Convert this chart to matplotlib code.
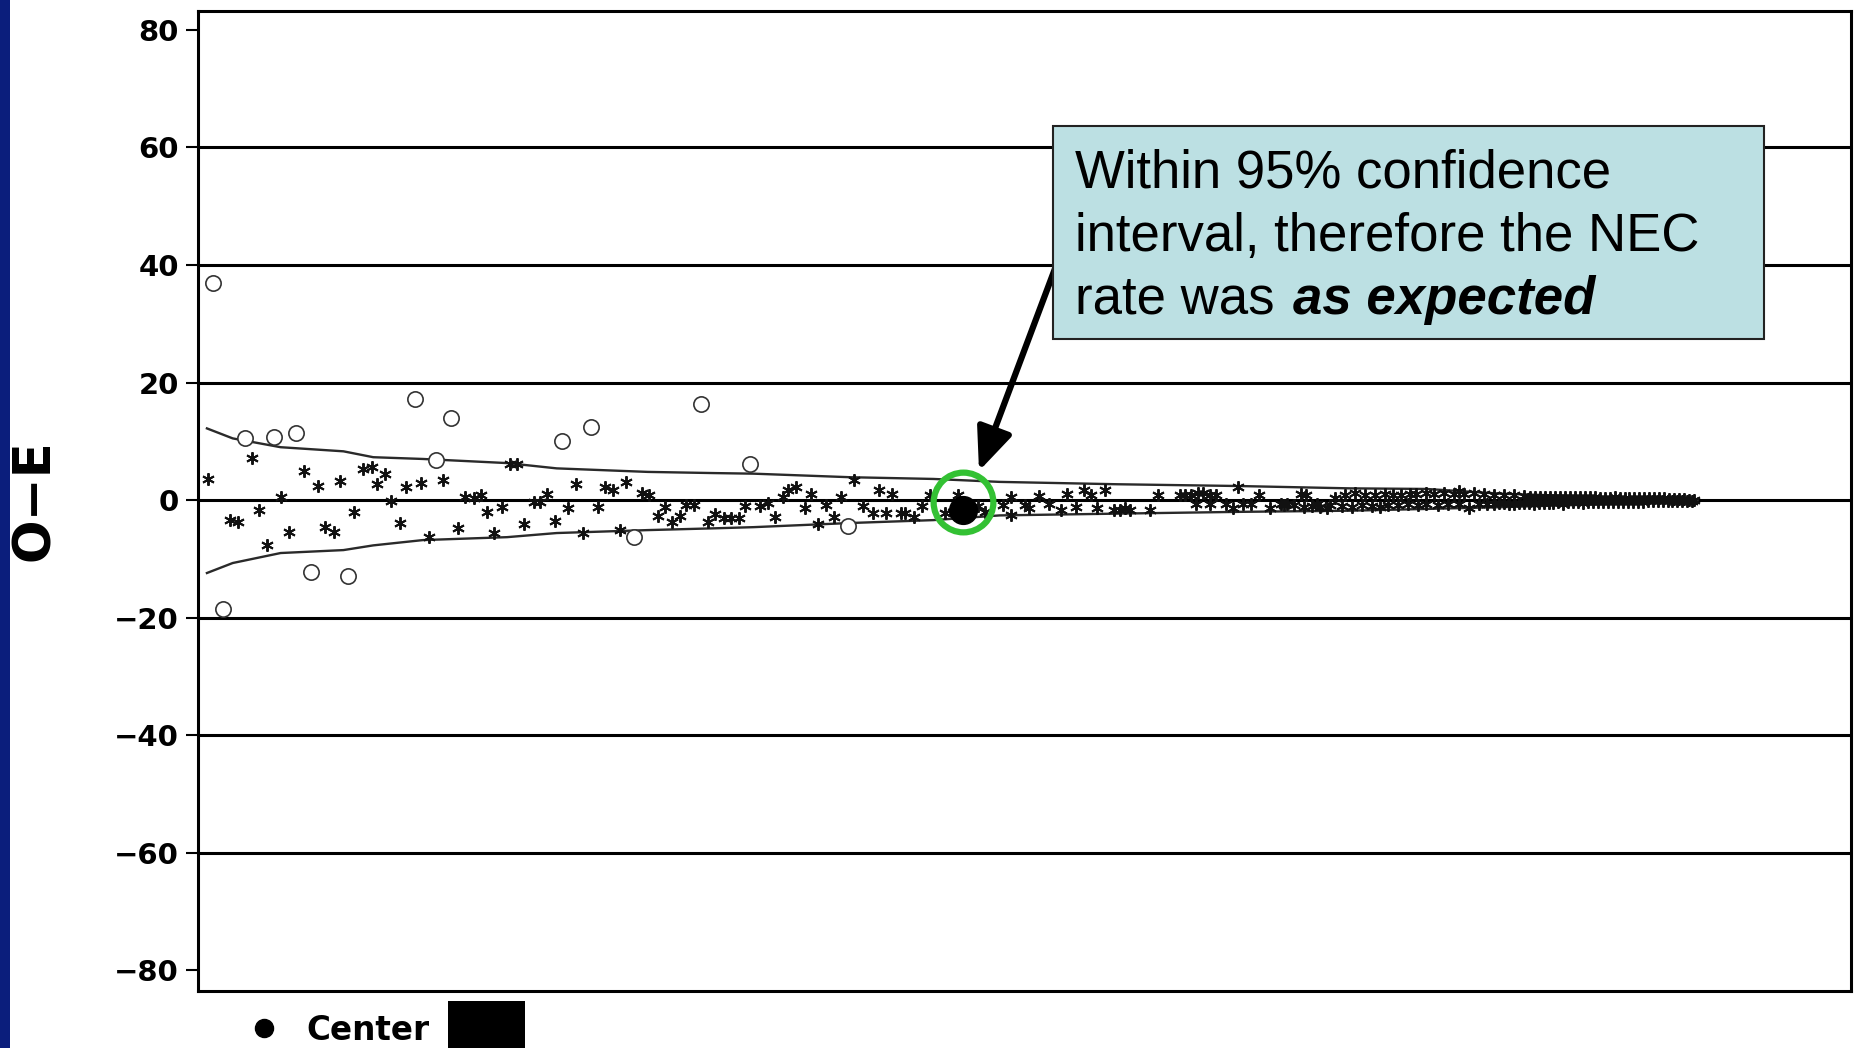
import matplotlib
matplotlib.use("Agg")
import matplotlib.pyplot as plt
from matplotlib.patches import Rectangle, FancyArrowPatch
from matplotlib.lines import Line2D

W, H = 1854, 1048

# 95% control limits (funnel)
ci_x = [0.54, 2.1, 5.0, 8.8, 10.6, 13.6, 18.7, 21.7, 27.2, 31.2, 33.6, 39.4, 44.5,
        48.5, 55.6, 62.9, 69.7, 74.3, 78.8, 83.2, 87.6, 90.7]
ci_upper = [12.2, 10.5, 9.0, 8.3, 7.3, 7.0, 6.3, 5.4, 4.8, 4.6, 4.5, 3.9, 3.6,
            3.1, 2.7, 2.4, 2.0, 1.9, 1.1, 0.7, 0.3, 0.0]
ci_lower = [-12.4, -10.7, -9.0, -8.5, -7.7, -6.8, -6.3, -5.6, -5.1, -4.8, -4.6, -3.9, -3.4,
            -2.6, -2.3, -2.0, -1.8, -1.5, -1.2, -0.85, -0.45, 0.0]

# centres outside the limits (open circles)
out_x = [0.93, 1.49, 2.84, 4.6, 5.93, 6.84, 9.06, 13.1, 14.4, 15.3, 22.0, 23.8, 26.4, 30.4, 33.4, 39.3]
out_y = [37.0, -18.6, 10.6, 10.7, 11.5, -12.3, -12.9, 17.2, 6.8, 13.9, 10.0, 12.5, -6.2, 16.3, 6.2, -4.4]

# centres inside the limits (asterisks)
star_x = [0.63, 1.94, 2.4, 3.25, 3.7, 4.15, 5.0, 5.5, 6.4, 7.27, 7.7, 8.2, 8.6, 9.46, 9.96,
          10.5, 10.85, 11.3, 11.7, 12.2, 12.6, 13.5, 13.96, 14.8, 15.75, 16.15, 16.7, 17.1,
          17.5, 17.9, 18.4, 18.85, 19.3, 19.7, 20.3, 20.7, 21.1, 21.6, 22.4, 22.85, 23.3,
          24.2, 24.6, 25.1, 25.5, 25.9, 26.85, 27.3, 27.8, 28.25, 28.7, 29.15, 29.5, 30.0,
          30.85, 31.3, 31.8, 32.25, 32.7, 33.1, 34.0, 34.5, 34.9, 35.4, 35.7, 36.2, 36.7,
          37.1, 37.5, 38.0, 38.5, 38.9, 39.7, 40.25, 40.85, 41.2, 41.6, 42.0, 42.5, 42.8,
          43.3, 43.8, 44.3, 45.2, 45.7, 46.0, 46.7, 47.2, 47.6, 48.7, 49.2, 49.2, 50.0,
          50.3, 50.9, 51.5, 52.2, 52.6, 53.1, 53.6, 54.0, 54.4, 54.9, 55.4, 55.8, 56.1,
          56.4, 57.6, 58.1, 59.4, 59.7, 60.1, 60.4, 60.5, 60.8, 61.2, 61.2, 61.6, 62.2,
          62.6, 62.9, 63.2, 63.7, 64.2, 64.85, 65.5, 65.9, 66.7, 67.0, 67.7, 68.3, 68.8,
          69.4, 70.0, 70.6, 71.2, 71.8, 72.3, 72.8, 73.3, 73.7, 74.3, 74.8, 75.4, 76.0,
          76.3, 76.6, 77.2, 77.8, 78.4, 79.0, 79.6, 80.2, 80.6, 80.9, 81.2, 81.5, 81.8,
          82.1, 82.4, 82.7, 83.0, 83.3, 83.6, 83.9, 84.2, 84.5, 84.8, 85.1, 85.4, 85.7,
          86.0, 86.3, 86.6, 86.9, 87.2, 87.5, 87.8, 88.1, 88.4, 88.7, 89.0, 89.3, 89.6,
          89.9, 90.2, 90.5,
          65.7, 66.3, 66.9, 67.4, 67.9, 68.5, 69.2, 69.8, 70.4, 71.0, 71.5, 72.0, 72.6,
          73.2, 73.8, 74.3, 75.0, 75.6, 76.3, 76.9, 77.5, 78.0, 78.4, 78.7, 79.0, 79.3,
          79.6, 79.9, 80.2, 80.5, 80.8, 81.1, 81.4, 81.7, 82.0, 82.3, 82.6, 82.9, 83.2,
          83.5, 83.8, 84.1, 84.4, 84.7, 85.0, 85.3, 85.6, 85.9, 86.2, 86.5, 86.8, 87.1,
          87.4, 87.7, 88.0, 88.3, 88.6, 88.9, 89.2, 89.5, 89.8, 90.1, 90.4]
star_y = [3.6, -3.3, -3.7, 7.1, -1.6, -7.6, 0.6, -5.4, 5.0, 2.4, -4.6, -5.4, 3.3, -2.1, 5.3,
          5.7, 2.7, 4.4, -0.2, -3.9, 2.3, 2.9, -6.2, 3.4, -4.7, 0.6, 0.4, 0.8,
          -2.0, -5.6, -1.1, 6.1, 6.1, -4.1, -0.4, -0.4, 1.1, -3.5, -1.4, 2.8, -5.6,
          -1.2, 2.3, 1.8, -5.1, 3.1, 1.25, 0.85, -2.7, -1.2, -3.7, -2.7, -0.85, -0.85,
          -3.7, -2.3, -3.0, -3.0, -3.0, -1.0, -1.0, -0.5, -2.8, 0.45, 1.8, 2.2, -1.4,
          1.1, -4.0, -0.85, -2.8, 0.45, 3.4, -1.0, -2.2, 1.7, -2.2, 1.1, -2.2, -2.2,
          -2.8, -1.0, 0.85, -2.2, -2.0, 0.85, -2.3, -1.0, -2.0, -0.85, 0.56, -2.55, -0.85,
          -1.4, 0.7, -0.6, -1.7, 1.0, -1.1, 1.7, 0.85, -1.4, 1.7, -1.7, -1.7, -1.4,
          -1.6, -1.7, 0.85, 0.85, 0.85, 0.85, -0.6, 1.2, 1.2, 0.85, -0.6, 0.85, -0.6,
          -1.4, 2.3, -0.6, -0.6, 0.85, -1.4, -0.6, -0.6, 1.1, 0.85, -0.6, -1.4, 0.3,
          0.9, 1.2, 0.8, 0.9, 1.0, 0.9, 0.9, 1.1, 1.1, 1.2, 1.1, 1.2, 1.1,
          1.6, 1.1, 1.2, 1.0, 0.9, 0.8, 0.8, 0.7, 0.6, 0.6, 0.6, 0.5, 0.6,
          0.6, 0.5, 0.5, 0.5, 0.6, 0.5, 0.5, 0.5, 0.5, 0.4, 0.4, 0.4, 0.5,
          0.4, 0.4, 0.3, 0.4, 0.3, 0.3, 0.3, 0.3, 0.3, 0.3, 0.2, 0.2, 0.2,
          0.2, 0.1, 0.1,
          -0.9, -0.8, -1.1, -1.0, -1.2, -0.8, -1.0, -1.1, -0.9, -1.0, -1.2, -0.8, -0.9,
          -0.7, -0.8, -0.7, -0.8, -0.6, -0.7, -1.3, -0.7, -0.6, -0.6, -0.5, -0.5, -0.6,
          -0.6, -0.5, -0.5, -0.5, -0.6, -0.5, -0.5, -0.5, -0.5, -0.4, -0.6, -0.4, -0.4,
          -0.4, -0.5, -0.4, -0.4, -0.4, -0.4, -0.3, -0.4, -0.3, -0.3, -0.3, -0.3, -0.3,
          -0.3, -0.2, -0.2, -0.2, -0.2, -0.2, -0.2, -0.1, -0.1, -0.1, -0.1]

# the highlighted centre
center_x = 46.3
center_y = -1.7

yticks = [-80, -60, -40, -20, 0, 20, 40, 60, 80]
gridlines = [-60, -40, -20, 0, 20, 40, 60]

fig = plt.figure(figsize=(W / 100, H / 100), dpi=100)
fig.patch.set_facecolor("white")
ax = fig.add_axes([198 / W, 1 - 991 / H, (1851 - 198) / W, (991 - 11) / H])

for g in gridlines:
    ax.axhline(g, color="black", lw=2.2, zorder=1)

ax.plot(ci_x, ci_upper, color="#2a2a2a", lw=1.7, zorder=2)
ax.plot(ci_x, ci_lower, color="#2a2a2a", lw=1.7, zorder=2)
ax.plot(star_x, star_y, ls="none", marker=(6, 2, 0), ms=9, mew=1.4, color="#111111", zorder=3)
ax.plot(out_x, out_y, ls="none", marker="o", ms=11, mfc="white", mec="#333333", mew=1.2, zorder=3)
ax.plot([center_x], [center_y], ls="none", marker="o", ms=20, color="black", zorder=4)
ax.plot([center_x], [center_y + 1.4], ls="none", marker="o", ms=43, mfc="none",
        mec="#33c133", mew=4.5, zorder=5)

ax.set_xlim(0, 100)
ax.set_ylim(-83.5, 83.2)
ax.set_xticks([])
ax.set_yticks(yticks)
ax.tick_params(axis="y", length=8.6, width=1.5, pad=5, labelsize=21)
for lbl in ax.get_yticklabels():
    lbl.set_fontweight("bold")
for s in ax.spines.values():
    s.set_linewidth(2.2)

fig.text(35.5 / W, 1 - 500 / H, "O\u2212E", rotation=90, ha="center", va="center",
         fontsize=37, fontweight="bold")

# left blue strip of the slide
fig.add_artist(Rectangle((0, 0), 10 / W, 1, transform=fig.transFigure,
                         facecolor="#0b1e7c", edgecolor="none", zorder=10))

# arrow and callout box
fig.add_artist(FancyArrowPatch((1062 / W, 1 - 250 / H), (979 / W, 1 - 471 / H),
                               transform=fig.transFigure,
                               arrowstyle="-|>,head_length=1.3,head_width=0.55",
                               mutation_scale=20, lw=4.5, color="black",
                               shrinkA=0, shrinkB=0, zorder=8))
fig.add_artist(Rectangle((1053 / W, 1 - 339 / H), (1764 - 1053) / W, (339 - 126) / H,
                         transform=fig.transFigure, facecolor="#bce0e3",
                         edgecolor="#222222", lw=1.5, zorder=9))
font = "Liberation Sans"
fig.text(1075 / W, 1 - 188 / H, "Within 95% confidence", fontsize=38, family=font,
         va="baseline", zorder=11)
fig.text(1075 / W, 1 - 251 / H, "interval, therefore the NEC", fontsize=38, family=font,
         va="baseline", zorder=11)
t3 = fig.text(1075 / W, 1 - 314 / H, "rate was ", fontsize=38, family=font,
              va="baseline", zorder=11)
r = fig.canvas.get_renderer()
bb = t3.get_window_extent(renderer=r)
fig.text((bb.x1 + 4) / W, 1 - 314 / H, "as expected", fontsize=38, family=font,
         fontweight="bold", fontstyle="italic", va="baseline", zorder=11)

# legend strip at the bottom
fig.add_artist(Line2D([264 / W], [1 - 1028 / H], marker="o", ms=13, color="black",
                      transform=fig.transFigure))
fig.text(306 / W, 1 - 1040 / H, "Center", ha="left", va="baseline", fontsize=23.5,
         fontweight="bold")
fig.add_artist(Rectangle((448 / W, 0), 77 / W, (1048 - 1001) / H, transform=fig.transFigure,
                         facecolor="black", edgecolor="none"))

fig.savefig("out.png", dpi=100)
